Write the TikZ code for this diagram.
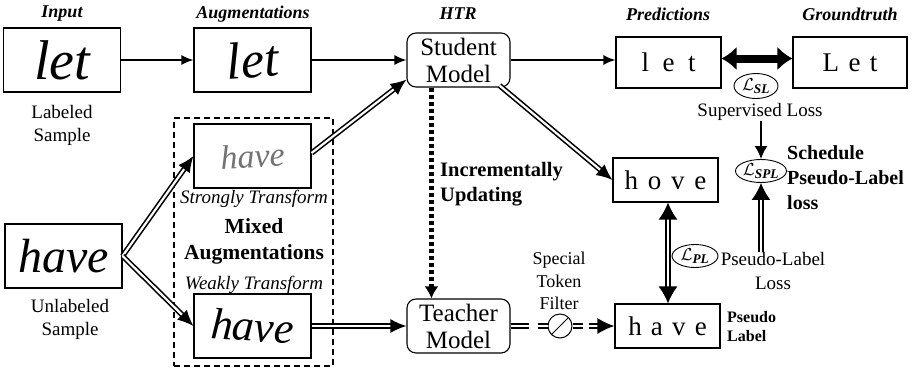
\documentclass[tikz,border=0pt]{standalone}
\usepackage{amsmath}
\usepackage{fontspec}
\setmainfont{Liberation Serif}
\usetikzlibrary{arrows.meta,shapes.geometric,calc}
\tikzset{
  box/.style={draw, line width=1.1pt, inner sep=0pt, align=center},
  imgbox/.style={box, minimum width=117pt, minimum height=64pt},
  model/.style={box, rounded corners=9pt, minimum width=103pt, minimum height=54pt, font=\fontsize{25}{27}\selectfont},
  txtbox/.style={box, minimum width=105pt, font=\fontsize{27}{30}\selectfont},
  title/.style={inner sep=0pt, font=\fontsize{18}{20}\selectfont\bfseries\itshape},
  lbl/.style={align=center, inner sep=0pt, font=\fontsize{19}{23}\selectfont},
  loss/.style={draw, ellipse, line width=0.9pt, inner sep=0pt, font=\fontsize{19}{20}\selectfont},
  arr/.style={line width=1.6pt, -{Latex[length=12pt,width=10pt]}},
  dbl/.style={line width=1.6pt, double distance=2.2pt, double=white},
  dblarr/.style={dbl, -{Latex[length=16pt,width=14pt]}},
  hand/.style={inner sep=0pt, font=\itshape},
}
\begin{document}
\begin{tikzpicture}[x=1pt,y=-1pt]
\useasboundingbox (0,0) rectangle (916,368);
% titles
\node[title] (t1) at (62,14) {Input};
\node[title] (t2) at (253,14) {Augmentations};
\node[title] (t3) at (458,14) {HTR};
\node[title] (t4) at (668,14) {Predictions};
\node[title] (t5) at (850,14) {Groundtruth};
% image boxes
\node[imgbox] (in1) at (62,60) {};
\node[hand, font=\fontsize{56}{56}\selectfont\itshape] (w1) at (in1) {let};
\node[imgbox] (aug1) at (252.5,60) {};
\node[hand, rotate=4, font=\fontsize{52}{52}\selectfont\itshape] (w2) at (aug1) {let};
\node[lbl] (lab) at (62,125) {Labeled\\Sample};
% dashed mixed box
\node[draw, line width=1.8pt, dash pattern=on 6pt off 4pt, minimum width=159pt, minimum height=248pt, inner sep=0pt] (mix) at (253.5,242) {};
\node[imgbox] (strong) at (252.5,156) {};
\node[hand, rotate=3, text=black!55, font=\fontsize{34}{34}\selectfont\itshape] (w3) at (strong) {have};
\node[imgbox] (weak) at (252.5,326) {};
\node[hand, rotate=-4, font=\fontsize{44}{44}\selectfont\itshape] (w4) at (weak) {have};
\node[lbl, font=\fontsize{19}{23}\selectfont\itshape] (st) at (254,199) {Strongly Transform};
\node[lbl, font=\fontsize{21.5}{26}\selectfont\bfseries] (mx) at (254,241) {Mixed\\Augmentations};
\node[lbl, font=\fontsize{19}{23}\selectfont\itshape] (wt) at (254,285) {Weakly Transform};
\node[imgbox] (unl) at (63.5,256) {};
\node[hand, font=\fontsize{48}{48}\selectfont\itshape] (w5) at (unl) {have};
\node[lbl] (ulab) at (70,319) {Unlabeled\\Sample};
% models
\node[model] (stu) at (458.5,60) {Student\\Model};
\node[model] (tea) at (458.5,326) {Teacher\\Model};
% predictions
\node[txtbox, minimum height=51pt] (pred1) at (668.5,62.5) {l\hspace{.5em}e\hspace{.5em}t};
\node[txtbox, minimum width=114pt, minimum height=51pt] (gt) at (850,62.5) {L\hspace{.35em}e\hspace{.35em}t};
\node[txtbox, minimum height=44pt] (hove) at (665.5,180) {h\hspace{.36em}o\hspace{.36em}v\hspace{.36em}e};
\node[txtbox, minimum height=44pt] (have) at (667.5,326) {h\hspace{.34em}a\hspace{.34em}v\hspace{.34em}e};
% losses
\node[loss, minimum width=44pt, minimum height=25pt] (lsl) at (756,86) {$\mathcal{L}_{\textbf{\textit{SL}}}$};
\node[lbl] (sup) at (760,112) {Supervised Loss};
\node[loss, minimum width=48pt, minimum height=23pt] (lspl) at (761,171) {$\mathcal{L}_{\textbf{\textit{SPL}}}$};
\node[lbl, anchor=west, align=left, font=\fontsize{20}{25}\selectfont\bfseries] (sch) at (787,178) {Schedule\\Pseudo-Label\\loss};
\node[loss, minimum width=46pt, minimum height=23pt] (lpl) at (695,256) {$\mathcal{L}_{\textbf{\textit{PL}}}$};
\node[lbl, font=\fontsize{19}{24}\selectfont] (pll) at (773,271) {Pseudo-Label\\Loss};
\node[lbl, anchor=west, align=left, font=\fontsize{16}{19}\selectfont\bfseries] (psl) at (727,327) {Pseudo\\Label};
% incrementally updating
\node[lbl, anchor=west, align=left, font=\fontsize{20.5}{25}\selectfont\bfseries] (inc) at (440,184) {Incrementally\\Updating};
% filter
\node[lbl, font=\fontsize{18}{22.5}\selectfont] (ftxt) at (559,281) {Special\\Token\\Filter};
\node[draw, circle, line width=1pt, minimum size=24pt, inner sep=0pt] (filt) at (560,326) {};
\draw[line width=1pt] (filt.225) -- (filt.45);
% connectors
\draw[arr] (in1.east) -- (aug1.west);
\draw[arr] (aug1.east) -- (stu.west);
\draw[arr] (stu.east) -- (stu.east -| pred1.west);
\draw[line width=8pt, {Latex[length=15pt,width=24pt]}-{Latex[length=15pt,width=24pt]}] ($(pred1.east)+(0,-4)$) -- ($(gt.west)+(0,-4)$);
\draw[arr, -{Latex[length=13pt,width=13pt]}] (sup.south -| lspl.north) -- (lspl.north);
\draw[dbl, -{Latex[length=17pt,width=19pt]}] (pll.north -| lspl.south) -- (lspl.south);
\draw[dbl, {Latex[length=17pt,width=19pt]}-{Latex[length=17pt,width=19pt]}] (hove.south -| 668,0) -- (have.north -| 668,0);
\draw[dblarr] (unl.east) -- (strong.west);
\draw[dblarr] (unl.east) -- (weak.west);
\draw[dblarr] ($(strong.east)+(0,-3)$) -- ($(stu.south west)+(0,-8)$);
\draw[dblarr] ($(stu.south east)+(-11,-2)$) -- (hove.west);
\draw[dblarr] (weak.east) -- (tea.west);
\draw[line width=5pt, dash pattern=on 4pt off 3pt, -{Latex[length=12pt,width=14pt]}] ($(stu.south west)+(25,0)$) -- ($(tea.north west)+(25,0)$);
\draw[dbl, dash pattern=on 18pt off 9pt] (tea.east) -- (filt.west);
\draw[dbl, dash pattern=on 10pt off 6pt, -{Latex[length=17pt,width=16pt]}] (filt.east) -- (have.west);
\end{tikzpicture}
\end{document}
